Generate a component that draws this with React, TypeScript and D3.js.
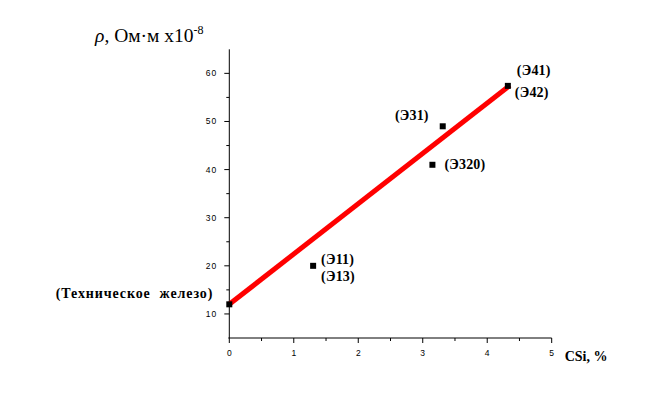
import React from "react";
import * as d3 from "d3";

// silicon content, % and resistivity, Ohm·m x10^-8
const siPct = [0, 1.3, 3.15, 3.31, 4.32];
const rho = [12, 20, 41, 49, 57.4];
const pointNames = [
  ["(Техническое  железо)"],
  ["(Э11)", "(Э13)"],
  ["(Э320)"],
  ["(Э31)"],
  ["(Э41)", "(Э42)"],
];

// trend line drawn through the end points
const lineX = [0, 4.35];
const lineY = [12, 57.5];

const xMajor = [0, 1, 2, 3, 4, 5];
const xMinor = [0.5, 1.5, 2.5, 3.5, 4.5];
const yMajor = [10, 20, 30, 40, 50, 60];
const yMinor = [15, 25, 35, 45, 55];

const W = 645;
const H = 395;

// label offsets (px) from each point: [dx, dy, anchor, letter spacing]
const labelPos: [number, number, string, number][][] = [
  [[-16, -11, "end", 0.9]],
  [[8, -6, "start", 0.2], [8, 11, "start", 0.2]],
  [[12, 0, "start", 0.2]],
  [[-14, -11, "end", 0.2]],
  [[9, -15, "start", 0.2], [7, 7, "start", 0.2]],
];

export default function App() {
  const x = d3.scaleLinear().domain([0, 5]).range([229.3, 551.7]);
  const y = d3.scaleLinear().domain([5, 65]).range([338, 49.3]);

  const line = d3
    .line<number>()
    .x((d) => x(d))
    .y((_, i) => y(lineY[i]));

  const serif = "'Liberation Serif', 'Times New Roman', serif";
  const sans = "'Liberation Sans', Arial, sans-serif";

  return (
    <div style={{ position: "absolute", left: 0, top: 0 }}>
      <svg width={W} height={H} style={{ display: "block", background: "#fff" }}>
        {/* axes */}
        <line x1={x(0)} x2={x(0)} y1={y(65)} y2={y(5)} stroke="#000" strokeWidth={1} />
        <line x1={x(0) - 1} x2={x(5)} y1={y(5)} y2={y(5)} stroke="#000" strokeWidth={1} />

        {yMajor.map((v) => (
          <g key={"ym" + v}>
            <line x1={x(0) - 5} x2={x(0)} y1={y(v)} y2={y(v)} stroke="#000" />
            <text
              x={x(0) - 12}
              y={y(v)}
              textAnchor="end"
              dominantBaseline="central"
              fontFamily={sans}
              fontSize={8.5}
              letterSpacing={1}
            >
              {v}
            </text>
          </g>
        ))}
        {yMinor.map((v) => (
          <line key={"yn" + v} x1={x(0) - 3} x2={x(0)} y1={y(v)} y2={y(v)} stroke="#000" />
        ))}

        {xMajor.map((v) => (
          <g key={"xm" + v}>
            <line x1={x(v)} x2={x(v)} y1={y(5)} y2={y(5) + 5} stroke="#000" />
            <text
              x={x(v) + 0.5}
              y={y(5) + 15}
              textAnchor="middle"
              dominantBaseline="central"
              fontFamily={sans}
              fontSize={8.5}
              letterSpacing={1}
            >
              {v}
            </text>
          </g>
        ))}
        {xMinor.map((v) => (
          <line key={"xn" + v} x1={x(v)} x2={x(v)} y1={y(5)} y2={y(5) + 3} stroke="#000" />
        ))}

        {/* axis titles */}
        <text
          x={x(5) + 13}
          y={y(5) + 18}
          dominantBaseline="central"
          fontFamily={serif}
          fontSize={14}
          fontWeight="bold"
        >
          CSi, %
        </text>
        <text x={95} y={42} fontFamily={serif} fontSize={19.5}>
          <tspan fontStyle="italic">ρ</tspan>, Ом·м x10
          <tspan dy={-8} fontSize={12}>-8</tspan>
        </text>

        {/* trend line */}
        <path d={line(lineX) ?? ""} fill="none" stroke="#ff0000" strokeWidth={5} />

        {/* points */}
        {siPct.map((s, i) => (
          <rect
            key={"p" + i}
            x={x(s) - 3}
            y={y(rho[i]) - 3}
            width={6}
            height={6}
            fill="#000"
          />
        ))}

        {/* labels */}
        {pointNames.map((names, i) =>
          names.map((n, j) => {
            const [dx, dy, anchor, ls] = labelPos[i][j];
            return (
              <text
                key={"l" + i + j}
                x={x(siPct[i]) + dx}
                y={y(rho[i]) + dy}
                textAnchor={anchor}
                dominantBaseline="central"
                fontFamily={serif}
                fontSize={14}
                fontWeight="bold"
                letterSpacing={ls}
                style={{ whiteSpace: "pre" }}
              >
                {n}
              </text>
            );
          })
        )}
      </svg>
    </div>
  );
}
